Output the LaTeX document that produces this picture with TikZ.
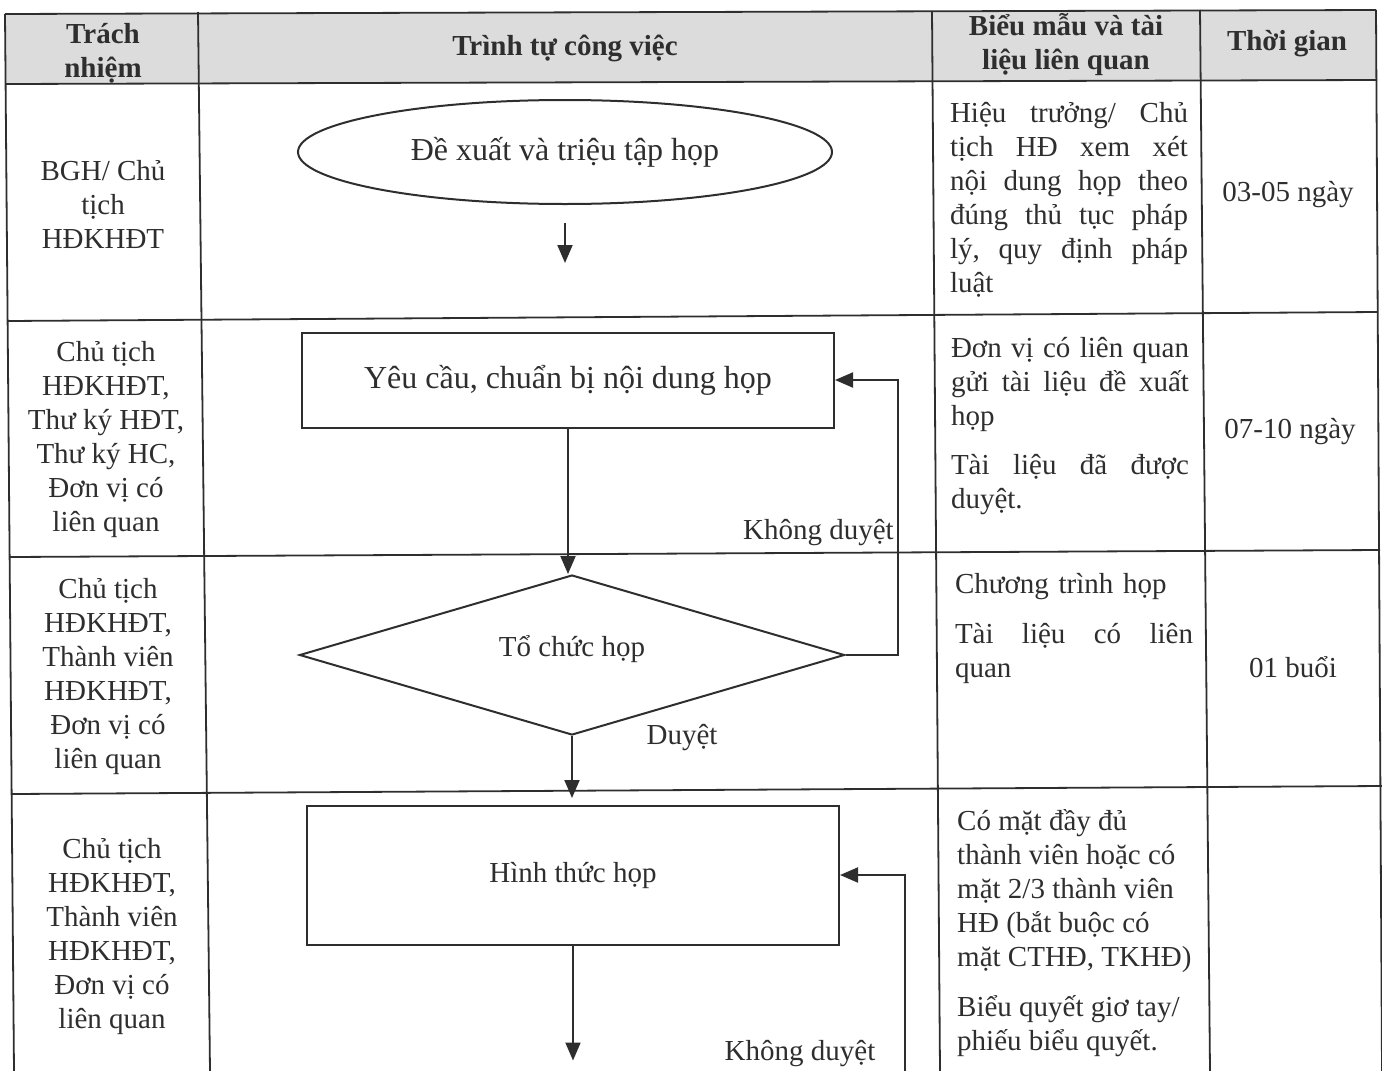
\documentclass[tikz,border=0pt]{standalone}
\usepackage{fontspec}
\setmainfont{Liberation Serif}
\usetikzlibrary{shapes.geometric}
\usetikzlibrary{arrows.meta}
\definecolor{ink}{HTML}{2E2E2E}
\definecolor{headfill}{HTML}{DCDCDC}
\newcommand{\bodyfont}{\fontsize{29}{34}\selectfont}
\newcommand{\bigfont}{\fontsize{32}{38}\selectfont}
\newcommand{\jl}[1]{\makebox[238pt][s]{#1}}

\begin{document}
\begin{tikzpicture}[x=1pt,y=-1pt,color=ink,
    grid/.style={line width=1.8pt},
    flow/.style={line width=2pt,-{Triangle[length=18pt,width=15pt]}},
    txt/.style={font=\bodyfont,inner sep=0pt,align=center},
    head/.style={font=\bodyfont\bfseries,inner sep=0pt,align=center},
    note/.style={font=\bodyfont,inner sep=0pt,text width=238pt,align=left},
    startbox/.style={draw,ellipse,line width=2pt,minimum width=534pt,minimum height=104pt,inner sep=0pt,font=\bigfont},
    stepbox/.style={draw,rectangle,line width=2pt,minimum width=532pt,inner sep=0pt},
    decision/.style={draw,diamond,aspect=3.4,line width=2pt,minimum width=545pt,minimum height=160pt,inner sep=0pt,font=\bodyfont}]
        \clip (0,0) rectangle (1382,1071);
        % Header band
        \fill[headfill] (5,14) -- (1376,10) -- (1377,80) -- (6,84) -- cycle;
        % Table rules
        \draw[grid] (5,14) -- (1376,10);
        \draw[grid] (6,84) -- (1377,80);
        \draw[grid] (8,321) -- (1378,312);
        \draw[grid] (10,557) -- (1380,550);
        \draw[grid] (12,794) -- (1382,786);
        \draw[grid] (5,14) -- (14,1071);
        \draw[grid] (198,12) -- (210,1071);
        \draw[grid] (932,11) -- (940,1071);
        \draw[grid] (1200,10) -- (1210,1071);
        \draw[grid] (1376,10) -- (1382,1071);
        % Header texts
        \node[head] (hresp) at (103,53) {Trách\\nhiệm};
        \node[head] (hsteps) at (565,48) {Trình tự công việc};
        \node[head] (hforms) at (1066,45) {Biểu mẫu và tài\\liệu liên quan};
        \node[head] (htime) at (1287,44) {Thời gian};
        % Responsible
        \node[txt] (resp1) at (103,204) {BGH/ Chủ\\tịch\\HĐKHĐT};
        \node[txt] (resp2) at (106,440) {Chủ tịch\\HĐKHĐT,\\Thư ký HĐT,\\Thư ký HC,\\Đơn vị có\\liên quan};
        \node[txt] (resp3) at (108,677) {Chủ tịch\\HĐKHĐT,\\Thành viên\\HĐKHĐT,\\Đơn vị có\\liên quan};
        \node[txt] (resp4) at (112,937) {Chủ tịch\\HĐKHĐT,\\Thành viên\\HĐKHĐT,\\Đơn vị có\\liên quan};
        % Forms and documents
        \node[note] (form1) at (1069,200) {\jl{Hiệu\hfill trưởng/\hfill Chủ}\\\jl{tịch\hfill HĐ\hfill xem\hfill xét}\\\jl{nội\hfill dung\hfill họp\hfill theo}\\\jl{đúng\hfill thủ\hfill tục\hfill pháp}\\\jl{lý,\hfill quy\hfill định\hfill pháp}\\luật};
        \node[note] (form2) at (1070,426) {\jl{Đơn\hfill vị\hfill có\hfill liên\hfill quan}\\\jl{gửi\hfill tài\hfill liệu\hfill đề\hfill xuất}\\họp\\[15pt]\jl{Tài\hfill liệu\hfill đã\hfill được}\\duyệt.};
        \node[note] (form3) at (1074,628) {Chương trình họp\\[16pt]\jl{Tài\hfill liệu\hfill có\hfill liên}\\quan};
        \node[font=\bodyfont,inner sep=0pt,align=left,anchor=west] (form4) at (957,933) {Có mặt đầy đủ\\thành viên hoặc có\\mặt 2/3 thành viên\\HĐ (bắt buộc có\\mặt CTHĐ, TKHĐ)\\[16pt]Biểu quyết giơ tay/\\phiếu biểu quyết.};
        % Time
        \node[txt] (time1) at (1288,195) {03-05 ngày};
        \node[txt] (time2) at (1290,432) {07-10 ngày};
        \node[txt] (time3) at (1293,667) {01 buổi};
        % Flow steps
        \node[startbox] (propose) at (565,152) {Đề xuất và triệu tập họp};
        \node[stepbox,minimum height=95pt,font=\bigfont] (prepare) at (568,380) {Yêu cầu, chuẩn bị nội dung họp};
        \node[decision] (organize) at (572,655) {\raisebox{-1pt}[0pt][0pt]{Tổ chức họp}};
        \node[stepbox,minimum height=139pt,font=\bodyfont] (format) at (573,875) {Hình thức họp};
        % Flow arrows
        \draw[flow] ([yshift=-18pt]propose.south) -- ++(0,40);
        \draw[flow] (prepare.south) -- (prepare.south |- organize.north);
        \draw[flow] (organize.east) -- ++(52,0) |- (prepare.east);
        \node[txt,anchor=east] (reject1) at (894,533) {Không duyệt};
        \draw[flow] (organize.south) -- ++(0,62);
        \node[txt] (approve) at (682,738) {Duyệt};
        \draw[flow] (format.south) -- ++(0,115);
        \coordinate (loopin) at (905,1075);
        \draw[flow] (loopin) |- (format.east);
        \node[txt] (reject2) at (800,1054) {Không duyệt};
\end{tikzpicture}
\end{document}
